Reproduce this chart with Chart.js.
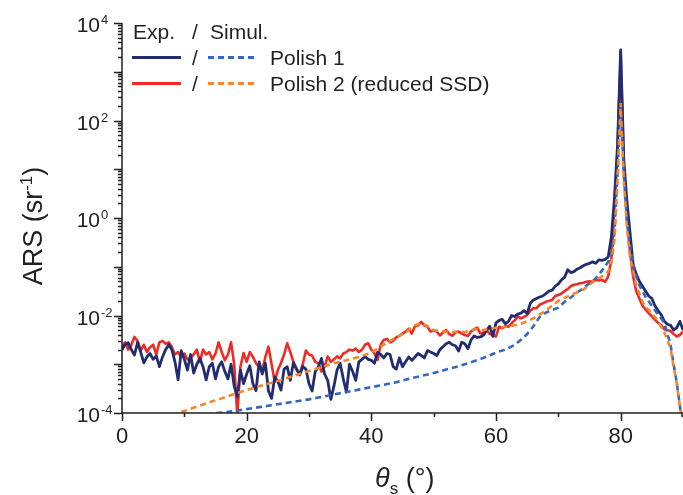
<!DOCTYPE html>
<html>
<head>
<meta charset="utf-8">
<script src="https://cdn.jsdelivr.net/npm/chart.js@4.4.0/dist/chart.umd.min.js"></script>
<style>
  html, body { margin: 0; padding: 0; background: #fff; }
  #wrap { width: 683px; height: 495px; }
</style>
</head>
<body>
<div id="wrap"><canvas id="ars" width="683" height="495"></canvas></div>
<script>
// measured curves are sampled every half degree, starting at 0
const ANGLE_STEP = 0.5;

// log10(ARS)
const expPolish1Log = [
  -2.70, -2.60, -2.56, -2.70, -2.81, -2.55, -2.75, -2.97, -2.85, -2.78,
  -2.90, -2.83, -3.05, -2.85, -2.70, -2.60, -2.70, -2.95, -3.32, -2.72,
  -2.90, -3.12, -2.80, -3.18, -3.00, -2.88, -3.05, -3.32, -3.05, -2.98,
  -3.30, -3.05, -2.95, -3.15, -3.30, -3.00, -3.45, -3.67, -3.12, -3.40,
  -3.20, -3.03, -3.40, -3.54, -2.95, -3.20, -2.98, -3.55, -3.70, -3.26,
  -3.35, -3.53, -3.10, -3.05, -3.33, -2.97, -3.10, -3.22, -3.05, -3.10,
  -3.40, -3.55, -3.15, -3.05, -2.88, -3.20, -3.33, -3.72, -3.45, -3.12,
  -2.98, -3.30, -3.57, -3.00, -3.15, -3.33, -2.95, -2.90, -2.84, -2.90,
  -2.92, -2.98, -2.75, -2.80, -2.87, -2.78, -2.80, -3.05, -3.10, -2.87,
  -3.05, -2.95, -2.85, -2.92, -2.85, -2.78, -2.82, -2.87, -2.72, -2.75,
  -2.78, -2.82, -2.70, -2.64, -2.58, -2.55, -2.60, -2.62, -2.73, -2.55,
  -2.58, -2.68, -2.50, -2.42, -2.45, -2.44, -2.40, -2.30, -2.22, -2.43,
  -2.15, -2.10, -2.08, -2.17, -2.12, -2.00, -2.02, -1.97, -1.95, -1.90,
  -1.96, -1.75, -1.68, -1.65, -1.62, -1.60, -1.55, -1.50, -1.48, -1.40,
  -1.35, -1.27, -1.22, -1.06, -1.12, -1.10, -1.05, -1.02, -0.98, -0.95,
  -0.93, -0.90, -0.93, -0.86, -0.87, -0.85, -0.80, -0.40, 0.40, 1.50,
  3.45, 1.20, 0.35, -0.30, -0.95, -1.15, -1.30, -1.40, -1.50, -1.60,
  -1.65, -1.80, -1.90, -1.98, -2.12, -2.18, -2.20, -2.30, -2.25, -2.12,
  -2.30
];

const expPolish2Log = [
  -2.65, -2.55, -2.70, -2.60, -2.44, -2.52, -2.72, -2.60, -2.75, -2.65,
  -2.60, -2.80, -2.55, -2.52, -2.58, -2.55, -2.65, -2.80, -2.75, -2.85,
  -2.78, -2.90, -2.87, -2.80, -2.70, -2.95, -2.70, -2.80, -2.75, -2.90,
  -2.78, -2.55, -2.75, -2.92, -2.80, -2.55, -3.00, -4.05, -3.05, -2.77,
  -2.95, -2.75, -2.85, -2.98, -3.05, -3.12, -2.85, -2.64, -3.00, -3.36,
  -3.12, -2.98, -2.80, -2.57, -2.75, -2.95, -3.10, -3.20, -3.00, -2.72,
  -2.80, -2.82, -2.95, -2.98, -3.15, -3.05, -2.84, -2.95, -2.90, -2.84,
  -2.88, -2.78, -2.75, -2.70, -2.72, -2.68, -2.75, -2.70, -2.60, -2.57,
  -2.70, -2.78, -2.91, -2.60, -2.50, -2.48, -2.55, -2.52, -2.45, -2.42,
  -2.37, -2.33, -2.27, -2.37, -2.22, -2.20, -2.13, -2.20, -2.23, -2.33,
  -2.30, -2.33, -2.41, -2.35, -2.30, -2.38, -2.42, -2.35, -2.33, -2.37,
  -2.40, -2.42, -2.33, -2.28, -2.25, -2.37, -2.35, -2.30, -2.38, -2.40,
  -2.43, -2.23, -2.26, -2.22, -2.23, -2.16, -2.10, -2.02, -2.06, -2.03,
  -1.99, -1.90, -1.85, -1.85, -1.78, -1.75, -1.72, -1.70, -1.68, -1.60,
  -1.58, -1.55, -1.50, -1.46, -1.40, -1.37, -1.36, -1.34, -1.33, -1.31,
  -1.30, -1.31, -1.27, -1.28, -1.27, -1.31, -1.20, -0.86, 0.20, 1.40,
  3.40, 1.10, 0.00, -0.70, -1.20, -1.50, -1.65, -1.80, -1.88, -1.95,
  -2.02, -2.09, -2.15, -2.20, -2.28, -2.30, -2.32, -2.38, -2.43, -2.40,
  -2.33
];

const simAngles1 = [12, 14, 16, 18, 20, 22, 24, 26, 28, 30, 32, 34, 36, 38, 40, 42, 44, 46, 48, 50,
  52, 54, 56, 58, 60, 61, 62, 63, 64, 65, 66, 67, 68, 69, 70, 71, 72, 73, 74, 75, 76, 77, 78,
  78.5, 79, 79.5, 80, 80.5, 81, 81.5, 82, 82.5, 83, 84, 85, 86, 87, 88, 88.5, 89, 89.5, 90];
const simPolish1Log = [-4.08, -4.02, -3.99, -3.96, -3.92, -3.88, -3.84, -3.80, -3.76, -3.72,
  -3.67, -3.62, -3.57, -3.52, -3.47, -3.42, -3.37, -3.30, -3.24, -3.18,
  -3.11, -3.04, -2.96, -2.87, -2.76, -2.72, -2.67, -2.60, -2.50, -2.38, -2.22, -2.03, -1.94,
  -1.89, -1.84, -1.72, -1.63, -1.53, -1.44, -1.34, -1.24, -1.08, -0.90,
  -0.76, -0.31, 0.90, 2.30, 0.90, -0.05, -0.55, -0.95, -1.20, -1.38,
  -1.62, -1.80, -1.98, -2.15, -2.60, -3.00, -3.38, -3.85, -4.35];

const simAngles2 = [8, 9, 10, 12, 14, 16, 18, 20, 22, 24, 26, 28, 30, 32, 34, 36, 38, 40,
  41, 42, 43, 44, 45, 46, 47, 48, 49, 50, 51, 52, 53, 54, 55, 56, 57, 58, 59, 60,
  62, 64, 66, 68, 70, 72, 74, 76, 77, 78,
  78.5, 79, 79.5, 80, 80.5, 81, 81.5, 82, 82.5, 83, 83.5, 84,
  85, 86, 87, 87.5, 88, 88.5, 89, 89.5, 90];
const simPolish2Log = [-4.05, -4.00, -3.96, -3.87, -3.78, -3.70, -3.61, -3.53, -3.45, -3.38,
  -3.30, -3.22, -3.14, -3.06, -2.98, -2.92, -2.85, -2.76,
  -2.68, -2.60, -2.52, -2.45, -2.38, -2.30, -2.20, -2.16, -2.22, -2.30,
  -2.32, -2.33, -2.34, -2.33, -2.34, -2.30, -2.28, -2.30, -2.27, -2.25,
  -2.23, -2.17, -2.06, -1.90, -1.70, -1.58, -1.47, -1.27, -1.20, -1.10,
  -0.93, -0.45, 0.80, 2.36, 0.80, -0.18, -0.79, -1.07, -1.38, -1.55, -1.72, -1.82,
  -1.95, -2.12, -2.35, -2.50, -2.68, -3.05, -3.39, -3.85, -4.30];

const xMajorTicks = [0, 20, 40, 60, 80];
const xMinorTicks = [10, 30, 50, 70, 90];
const yLabelExps = [4, 2, 0, -2, -4];

const INK = '#231f20';
const FONT = '"Liberation Sans", Arial, sans-serif';
const NAVY = '#222d6f';
const RED = '#ee2b26';
const BLUE = '#3267c3';
const ORANGE = '#f3872c';

function toPoints(angles, logs) {
  return logs.map((v, i) => ({ x: angles[i], y: Math.pow(10, v) }));
}
const expAngles = expPolish1Log.map((_, i) => i * ANGLE_STEP);

// axes, tick marks, tick labels, titles and the two-column legend
const axisDecor = {
  id: 'axisDecor',
  afterDraw(chart) {
    const ctx = chart.ctx;
    const { left, right, top, bottom } = chart.chartArea;
    const xs = chart.scales.x, ys = chart.scales.y;
    ctx.save();
    ctx.strokeStyle = INK;
    ctx.fillStyle = INK;
    ctx.lineWidth = 1.5;

    ctx.beginPath();
    ctx.moveTo(left, top);
    ctx.lineTo(left, bottom);
    ctx.lineTo(right, bottom);
    ctx.stroke();

    // x ticks
    ctx.beginPath();
    xMajorTicks.forEach(t => {
      const px = Math.round(xs.getPixelForValue(t)) + 0.5;
      ctx.moveTo(px, bottom); ctx.lineTo(px, bottom + 8);
    });
    xMinorTicks.forEach(t => {
      const px = Math.min(Math.round(xs.getPixelForValue(t)) + 0.5, right - 1);
      ctx.moveTo(px, bottom); ctx.lineTo(px, bottom + 4);
    });
    ctx.stroke();

    ctx.font = '22px ' + FONT;
    ctx.textAlign = 'center';
    ctx.textBaseline = 'alphabetic';
    xMajorTicks.forEach(t => ctx.fillText(String(t), xs.getPixelForValue(t), 443));

    // y ticks: decades long, 2..9 short
    ctx.beginPath();
    for (let e = -4; e <= 4; e++) {
      const py = Math.round(ys.getPixelForValue(Math.pow(10, e))) + 0.5;
      ctx.moveTo(left, py); ctx.lineTo(left - 8, py);
      if (e < 4) {
        for (let m = 2; m <= 9; m++) {
          const my = Math.round(ys.getPixelForValue(m * Math.pow(10, e))) + 0.5;
          ctx.moveTo(left, my); ctx.lineTo(left - 4, my);
        }
      }
    }
    ctx.stroke();

    yLabelExps.forEach(e => {
      const py = ys.getPixelForValue(Math.pow(10, e));
      ctx.font = '21px ' + FONT;
      ctx.textAlign = 'right';
      ctx.fillText('10', 100, py + 9);
      ctx.font = '13px ' + FONT;
      ctx.textAlign = 'left';
      ctx.fillText(String(e), 101, py + 1);
    });

    // x title
    let tx = 375;
    ctx.textAlign = 'left';
    ctx.font = 'italic 27px ' + FONT;
    ctx.fillText('\u03b8', tx, 487);
    tx += ctx.measureText('\u03b8').width;
    ctx.font = '17px ' + FONT;
    ctx.fillText('s', tx, 494);
    tx += ctx.measureText('s').width;
    ctx.font = '27px ' + FONT;
    ctx.fillText(' (\u00b0)', tx, 487);

    // y title
    ctx.save();
    ctx.translate(42, 226);
    ctx.rotate(-Math.PI / 2);
    ctx.font = '27px ' + FONT;
    const a = 'ARS (sr', c = ')';
    const wa = ctx.measureText(a).width, wc = ctx.measureText(c).width;
    ctx.font = '17px ' + FONT;
    const wb = ctx.measureText('-1').width;
    let sx = -(wa + wb + wc) / 2;
    ctx.font = '27px ' + FONT;
    ctx.fillText(a, sx, 0);
    ctx.font = '17px ' + FONT;
    ctx.fillText('-1', sx + wa, -10);
    ctx.font = '27px ' + FONT;
    ctx.fillText(c, sx + wa + wb, 0);
    ctx.restore();

    // legend
    ctx.font = '21px ' + FONT;
    ctx.fillText('Exp.', 133, 39);
    ctx.fillText('/', 192, 39);
    ctx.fillText('Simul.', 210, 39);
    const rows = [
      { y: 57.5, exp: NAVY, sim: BLUE, label: 'Polish 1' },
      { y: 83.5, exp: RED, sim: ORANGE, label: 'Polish 2 (reduced SSD)' }
    ];
    rows.forEach(r => {
      ctx.lineWidth = 3;
      ctx.setLineDash([]);
      ctx.strokeStyle = r.exp;
      ctx.beginPath(); ctx.moveTo(132, r.y); ctx.lineTo(181, r.y); ctx.stroke();
      ctx.strokeStyle = r.sim;
      ctx.setLineDash([6, 4]);
      ctx.beginPath(); ctx.moveTo(208, r.y); ctx.lineTo(256, r.y); ctx.stroke();
      ctx.setLineDash([]);
      ctx.fillStyle = INK;
      ctx.fillText('/', 192, r.y + 7);
      ctx.fillText(r.label, 270, r.y + 7);
    });
    ctx.restore();
  }
};

new Chart(document.getElementById('ars'), {
  type: 'line',
  data: {
    datasets: [
      { label: 'Simul. Polish 2 (reduced SSD)', data: toPoints(simAngles2, simPolish2Log),
        borderColor: ORANGE, borderWidth: 2.6, borderDash: [6, 4] },
      { label: 'Simul. Polish 1', data: toPoints(simAngles1, simPolish1Log),
        borderColor: BLUE, borderWidth: 2.6, borderDash: [6, 4] },
      { label: 'Exp. Polish 1', data: toPoints(expAngles, expPolish1Log),
        borderColor: NAVY, borderWidth: 2.8, borderJoinStyle: 'round' },
      { label: 'Exp. Polish 2', data: toPoints(expAngles, expPolish2Log),
        borderColor: RED, borderWidth: 2.6, borderJoinStyle: 'round' }
    ]
  },
  options: {
    responsive: false,
    animation: false,
    devicePixelRatio: 1,
    layout: { padding: { left: 122, top: 23, right: 0, bottom: 82 } },
    elements: { point: { radius: 0 }, line: { tension: 0, fill: false } },
    scales: {
      x: { type: 'linear', min: 0, max: 90, display: false },
      y: { type: 'logarithmic', min: 1e-4, max: 1e4, display: false }
    },
    plugins: { legend: { display: false }, tooltip: { enabled: false } }
  },
  plugins: [axisDecor]
});
</script>
</body>
</html>
